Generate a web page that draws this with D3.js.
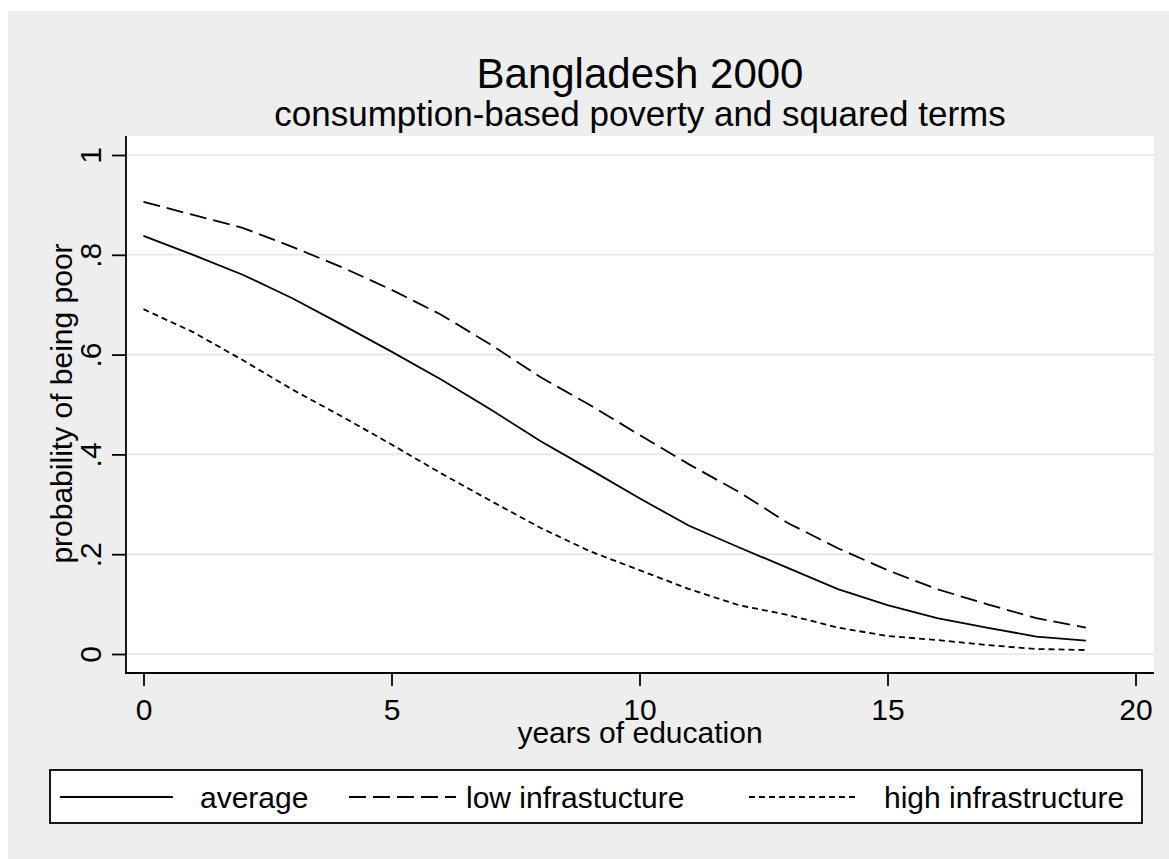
<!DOCTYPE html>
<html>
<head>
<meta charset="utf-8">
<script src="https://cdn.jsdelivr.net/npm/d3@7"></script>
<style>
  html, body { margin: 0; padding: 0; background: #ffffff; }
  svg { display: block; }
  text { font-family: "Liberation Sans", Arial, Helvetica, sans-serif; fill: #000; }
</style>
</head>
<body>
<svg id="chart" width="1169" height="859"></svg>
<script>
// Predicted probability of being poor by years of education
const years = [0, 1, 2, 3, 4, 5, 6, 7, 8, 9, 10, 11, 12, 13, 14, 15, 16, 17, 18, 19];
const average = [0.838, 0.800, 0.760, 0.713, 0.660, 0.606, 0.550, 0.490, 0.427, 0.370,
                 0.312, 0.257, 0.214, 0.172, 0.130, 0.098, 0.072, 0.053, 0.035, 0.027];
const lowInfra = [0.906, 0.880, 0.854, 0.816, 0.775, 0.730, 0.680, 0.620, 0.555, 0.499,
                  0.439, 0.380, 0.325, 0.262, 0.212, 0.168, 0.130, 0.100, 0.072, 0.053];
const highInfra = [0.691, 0.645, 0.589, 0.530, 0.476, 0.420, 0.362, 0.307, 0.253, 0.206,
                   0.168, 0.130, 0.098, 0.078, 0.053, 0.036, 0.028, 0.018, 0.010, 0.008];
const xTicks = [0, 5, 10, 15, 20];
const yTicks = [0, 0.2, 0.4, 0.6, 0.8, 1];
const seriesNames = ["average", "low infrastucture", "high infrastructure"];

const svg = d3.select("#chart");

// graph region
svg.append("rect").attr("x", 8).attr("y", 11).attr("width", 1161).attr("height", 848)
  .attr("fill", "#eeeeee");

// plot region
const plot = { left: 126, right: 1154, top: 136, bottom: 673 };
svg.append("rect")
  .attr("x", plot.left).attr("y", plot.top)
  .attr("width", plot.right - plot.left).attr("height", plot.bottom - plot.top)
  .attr("fill", "#ffffff");

const x = d3.scaleLinear().domain([0, 20]).range([143.5, 1135.5]);
const y = d3.scaleLinear().domain([0, 1]).range([654, 155]);

// horizontal grid
svg.append("g").selectAll("line").data(yTicks).join("line")
  .attr("x1", plot.left).attr("x2", plot.right)
  .attr("y1", d => y(d)).attr("y2", d => y(d))
  .attr("stroke", "#e6e6e6").attr("stroke-width", 1.6);

const fmtY = d => d === 0 ? "0" : d === 1 ? "1" : d3.format(".1f")(d).replace(/^0/, "");

// y axis
const yAxis = svg.append("g").attr("transform", `translate(${plot.left},0)`)
  .call(d3.axisLeft(y).tickValues(yTicks).tickFormat(fmtY).tickSize(14).tickPadding(0));
yAxis.select(".domain").remove();
yAxis.selectAll(".tick line").attr("stroke", "#000").attr("stroke-width", 1.8);
yAxis.selectAll(".tick text")
  .attr("transform", "rotate(-90)")
  .attr("x", 0).attr("y", -25)
  .attr("dy", 0)
  .attr("text-anchor", "middle")
  .style("font-size", "30px");
svg.append("line").attr("x1", plot.left).attr("x2", plot.left)
  .attr("y1", plot.top).attr("y2", plot.bottom + 1)
  .attr("stroke", "#000").attr("stroke-width", 1.8);

// x axis
const xAxis = svg.append("g").attr("transform", `translate(0,${plot.bottom})`)
  .call(d3.axisBottom(x).tickValues(xTicks).tickFormat(d3.format("d")).tickSize(13).tickPadding(0));
xAxis.select(".domain").remove();
xAxis.selectAll(".tick line").attr("stroke", "#000").attr("stroke-width", 1.8);
xAxis.selectAll(".tick text")
  .attr("y", 47).attr("dy", 0)
  .style("font-size", "30px");
svg.append("line").attr("x1", plot.left - 1).attr("x2", plot.right)
  .attr("y1", plot.bottom).attr("y2", plot.bottom)
  .attr("stroke", "#000").attr("stroke-width", 1.8);

// axis titles
svg.append("text").attr("x", 640).attr("y", 743)
  .attr("text-anchor", "middle").style("font-size", "30px")
  .text("years of education");
svg.append("text")
  .attr("transform", `translate(72,${(plot.top + plot.bottom) / 2 - 1}) rotate(-90)`)
  .attr("text-anchor", "middle").style("font-size", "30px")
  .text("probability of being poor");

// titles
svg.append("text").attr("x", 640).attr("y", 88)
  .attr("text-anchor", "middle").style("font-size", "42px")
  .text("Bangladesh 2000");
svg.append("text").attr("x", 640).attr("y", 126)
  .attr("text-anchor", "middle").style("font-size", "35px")
  .text("consumption-based poverty and squared terms");

// series
const dashes = [null, "17,7", "6,4"];
const seriesData = [average, lowInfra, highInfra];
const line = d3.line().x((d, i) => x(years[i])).y(d => y(d));
svg.append("g").selectAll("path").data(seriesData).join("path")
  .attr("d", d => line(d))
  .attr("fill", "none").attr("stroke", "#000").attr("stroke-width", 1.8)
  .attr("stroke-dasharray", (d, i) => dashes[i]);

// legend
const lg = svg.append("g");
lg.append("rect").attr("x", 50).attr("y", 770).attr("width", 1092).attr("height", 53)
  .attr("fill", "#ffffff").attr("stroke", "#000").attr("stroke-width", 1.8);
const legendItems = [
  { x1: 60, x2: 173, tx: 200 },
  { x1: 349, x2: 456, tx: 466 },
  { x1: 749, x2: 857, tx: 884 }
];
legendItems.forEach((it, i) => {
  lg.append("line").attr("x1", it.x1).attr("x2", it.x2).attr("y1", 797).attr("y2", 797)
    .attr("stroke", "#000").attr("stroke-width", 1.8)
    .attr("stroke-dasharray", dashes[i]);
  lg.append("text").attr("x", it.tx).attr("y", 808)
    .style("font-size", "30px").text(seriesNames[i]);
});
</script>
</body>
</html>
